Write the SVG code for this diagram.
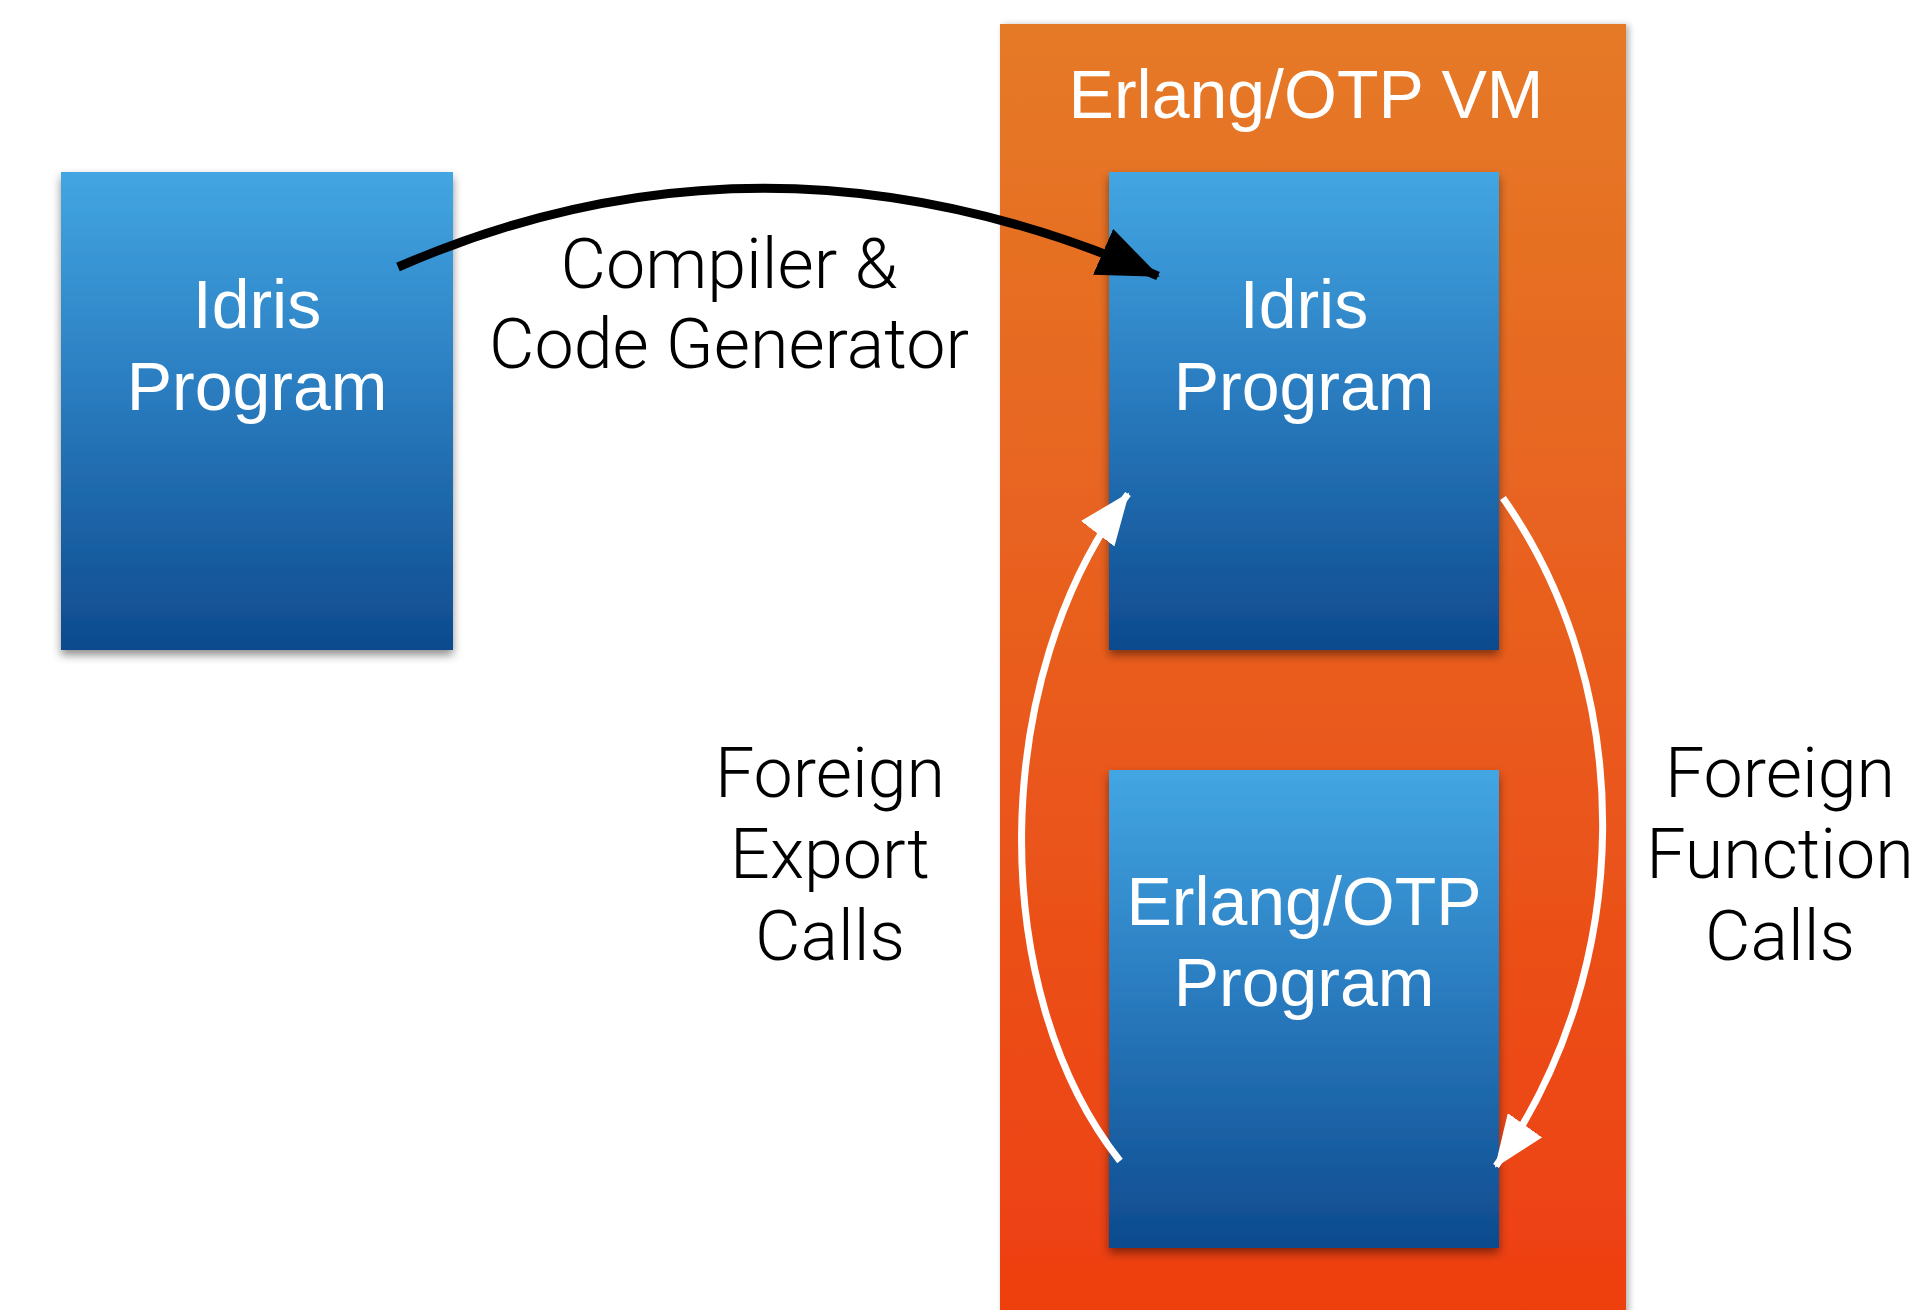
<svg xmlns="http://www.w3.org/2000/svg" width="1913" height="1310" viewBox="0 0 1913 1310">
  <defs>
    <linearGradient id="blueFill" x1="0" y1="0" x2="0" y2="1">
      <stop offset="0" stop-color="#43A6E3"/>
      <stop offset="0.45" stop-color="#2A7DC0"/>
      <stop offset="1" stop-color="#0E4A8E"/>
    </linearGradient>
    <linearGradient id="orangeFill" x1="0" y1="0" x2="0" y2="1">
      <stop offset="0" stop-color="#E57A27"/>
      <stop offset="0.5" stop-color="#E95C1E"/>
      <stop offset="1" stop-color="#EE3E10"/>
    </linearGradient>
    <filter id="boxShadow" x="-10%" y="-10%" width="120%" height="120%">
      <feDropShadow dx="0" dy="5" stdDeviation="5" flood-color="#000" flood-opacity="0.45"/>
    </filter>
    <filter id="panelShadow" x="-5%" y="-5%" width="110%" height="110%">
      <feDropShadow dx="3" dy="1" stdDeviation="3" flood-color="#000" flood-opacity="0.3"/>
    </filter>
    <marker id="headBlack" markerUnits="userSpaceOnUse" viewBox="0 0 62 50" markerWidth="62" markerHeight="50" refX="60" refY="25" orient="auto">
      <path d="M0,0 L62,25 L0,50 z" fill="#000"/>
    </marker>
    <marker id="headWhite" markerUnits="userSpaceOnUse" viewBox="0 0 52 42" markerWidth="52" markerHeight="42" refX="50" refY="21" orient="auto">
      <path d="M0,0 L52,21 L0,42 z" fill="#fff"/>
    </marker>
  </defs>
  <style>
    .box { fill: url(#blueFill); filter: url(#boxShadow); }
    .inbox { fill: #fff; font-family: "Liberation Sans", Arial, sans-serif; font-size: 68px; text-anchor: middle; }
    .note { fill: #000; font-family: Roboto, "Liberation Sans", sans-serif; font-weight: 300; font-size: 70px; text-anchor: middle; }
    .wire { fill: none; stroke-linecap: butt; }
  </style>

  <!-- VM panel -->
  <g id="vm">
    <rect x="1000" y="24" width="626" height="1300" fill="url(#orangeFill)" filter="url(#panelShadow)"/>
    <text class="inbox" x="1306" y="118">Erlang/OTP VM</text>
  </g>

  <!-- source program -->
  <g id="idris-source">
    <rect class="box" x="61" y="172" width="392" height="478"/>
    <text class="inbox" x="257" y="328">Idris</text>
    <text class="inbox" x="257" y="410">Program</text>
  </g>

  <!-- compiled program inside the VM -->
  <g id="idris-vm">
    <rect class="box" x="1109" y="172" width="390" height="478"/>
    <text class="inbox" x="1304" y="328">Idris</text>
    <text class="inbox" x="1304" y="410">Program</text>
  </g>

  <!-- native program inside the VM -->
  <g id="erlang-program">
    <rect class="box" x="1109" y="770" width="390" height="478"/>
    <text class="inbox" x="1304" y="925">Erlang/OTP</text>
    <text class="inbox" x="1304" y="1006">Program</text>
  </g>

  <!-- connectors -->
  <g id="connectors">
    <path class="wire" d="M398,267 Q770,105 1158,276" stroke="#000" stroke-width="9" marker-end="url(#headBlack)"/>
    <path class="wire" d="M1120,1161 C985,990 990,675 1128,494" stroke="#fff" stroke-width="7" marker-end="url(#headWhite)"/>
    <path class="wire" d="M1503,498 C1638,690 1636,969 1496,1166" stroke="#fff" stroke-width="7" marker-end="url(#headWhite)"/>
  </g>

  <!-- connector labels -->
  <g id="labels">
    <text class="note" x="729" y="288">Compiler &amp;</text>
    <text class="note" x="729" y="368">Code Generator</text>
    <text class="note" x="830" y="797">Foreign</text>
    <text class="note" x="830" y="878">Export</text>
    <text class="note" x="830" y="960">Calls</text>
    <text class="note" x="1780" y="797">Foreign</text>
    <text class="note" x="1780" y="878">Function</text>
    <text class="note" x="1780" y="960">Calls</text>
  </g>
</svg>
